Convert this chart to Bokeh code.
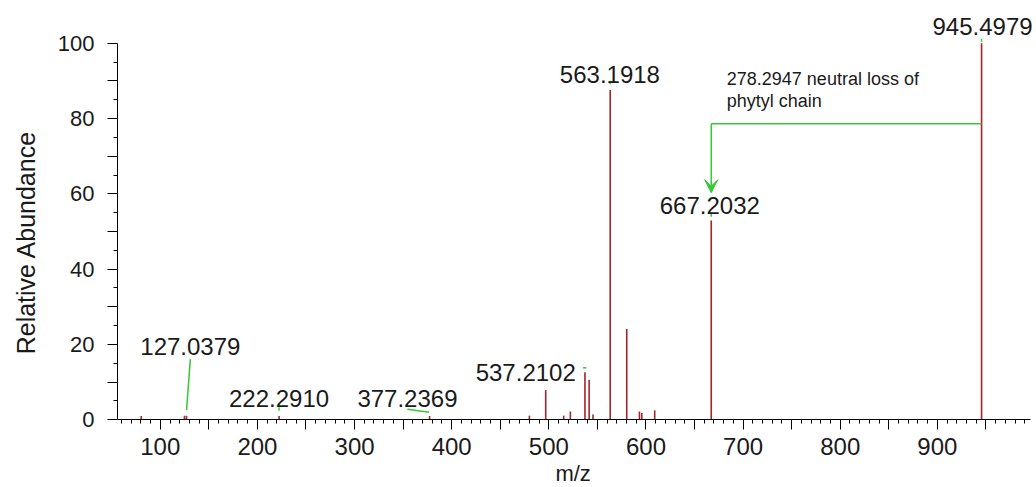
from bokeh.plotting import figure
from bokeh.models import Range1d, FixedTicker, Arrow, VeeHead
from bokeh.core.properties import value
from bokeh.embed import file_html
from bokeh.resources import INLINE
import math

# ---- data ----
mz = [80.4, 124.9, 127.0379, 222.2910, 377.2369, 480.0, 496.8, 515.3, 522.2,
      537.2102, 541.5, 545.5, 563.1918, 580.2, 593.3, 595.7, 609.0, 667.2032, 945.4979]
abundance = [1.0, 1.1, 1.1, 1.0, 1.0, 1.1, 7.9, 1.1, 2.2,
             12.6, 10.6, 1.4, 87.6, 24.1, 2.2, 1.8, 2.5, 52.9, 100.0]

label_mz = [127.0379, 222.2910, 377.2369, 537.2102, 563.1918, 667.2032, 945.4979]
label_text = ["127.0379", "222.2910", "377.2369", "537.2102", "563.1918", "667.2032", "945.4979"]
label_abund = [1.1, 1.0, 1.0, 12.6, 87.6, 52.9, 100.0]

loss_text = ["278.2947 neutral loss of", "phytyl chain"]
loss_from = 945.4979
loss_to = 667.2032

x_ticks = [100, 200, 300, 400, 500, 600, 700, 800, 900]
y_ticks = [0, 20, 40, 60, 80, 100]
x_title = "m/z"
y_title = "Relative Abundance"

# ---- layout / style (not data) ----
X_MIN, X_MAX = 56, 996
label_dx = [3.9, 0.0, -22.8, -61.0, -0.3, -1.5, 1.0]
label_dy = [18.3, 4.6, 4.6, 0.0, 4.2, 3.9, 4.4]
lead_dx0 = [3.9, 0.0, -22.8, -2.0, 0.0, 0.0, 0.0]
lead_dy0 = [15.0, 2.3, 1.8, 1.2, 2.4, 1.9, 1.2]
lead_dx1 = [0.0, 0.0, -0.5, 1.5, 0.0, 0.0, 0.0]
lead_dy1 = [1.5, 1.4, 1.0, 1.2, 1.5, 1.0, 0.4]
arrow_level = 78.6
arrow_tip = 60.3
y_title_pos = (-38.7, 47.1)
x_title_pos = (525.0, -14.3)

PEAK = "#a3242a"
GREEN = "#35c935"
FONT = "Liberation Sans"
TXT = "#1a1a1a"

p = figure(width=1034, height=487, x_range=Range1d(-64.5, 1000), y_range=Range1d(-17.98, 111.34),
           output_backend="svg", toolbar_location=None, min_border=0)
p.grid.visible = False
p.outline_line_color = None
p.background_fill_color = "white"
p.border_fill_color = "white"

# peaks
p.segment(x0=mz, y0=[0] * len(mz), x1=mz, y1=abundance, line_color=PEAK, line_width=1.6)

# leader lines
p.segment(x0=[m + d for m, d in zip(label_mz, lead_dx0)],
          y0=[a + d for a, d in zip(label_abund, lead_dy0)],
          x1=[m + d for m, d in zip(label_mz, lead_dx1)],
          y1=[a + d for a, d in zip(label_abund, lead_dy1)],
          line_color=GREEN, line_width=1.5)

# peak labels
p.text(x=[m + d for m, d in zip(label_mz, label_dx)],
       y=[a + d for a, d in zip(label_abund, label_dy)],
       text=label_text, text_font=value(FONT), text_font_size="24px",
       text_align="center", text_baseline="middle", text_color=TXT)

# neutral loss annotation
p.segment(x0=[loss_from], y0=[arrow_level], x1=[loss_to], y1=[arrow_level],
          line_color=GREEN, line_width=1.5)
p.add_layout(Arrow(end=VeeHead(size=13, fill_color=GREEN, line_color=GREEN),
                   x_start=loss_to, y_start=arrow_level, x_end=loss_to, y_end=arrow_tip,
                   line_color=GREEN, line_width=1.5))
p.text(x=[loss_to + 16.0, loss_to + 16.0], y=[arrow_level + 12.0, arrow_level + 6.0],
       text=loss_text, text_font=value(FONT), text_font_size="18px",
       text_align="left", text_baseline="middle", text_color=TXT)

# axis titles
p.text(x=[y_title_pos[0]], y=[y_title_pos[1]], text=[y_title], angle=math.pi / 2,
       text_font=value(FONT), text_font_size="25px",
       text_align="center", text_baseline="middle", text_color=TXT)
p.text(x=[x_title_pos[0]], y=[x_title_pos[1]], text=[x_title],
       text_font=value(FONT), text_font_size="22px",
       text_align="center", text_baseline="middle", text_color=TXT)

# axes
xa = p.xaxis[0]
xa.fixed_location = 0
xa.bounds = (X_MIN, X_MAX)
xa.ticker = FixedTicker(ticks=[t for t in range(100, 1000, 50)],
                        minor_ticks=[t for t in range(60, 1000, 10)])
xa.major_label_overrides = {t: ("" if t not in x_ticks else str(t)) for t in range(100, 1000, 50)}
xa.major_tick_out = 10
xa.major_tick_in = 0
xa.minor_tick_out = 4
xa.minor_tick_in = 0
xa.major_label_standoff = 8
xa.major_label_text_font = FONT
xa.major_label_text_font_size = "24px"
xa.axis_line_color = "black"
xa.major_tick_line_color = "black"
xa.minor_tick_line_color = "black"
xa.major_label_text_color = TXT

ya = p.yaxis[0]
ya.fixed_location = X_MIN
ya.bounds = (0, 100)
ya.ticker = FixedTicker(ticks=list(range(0, 101, 10)), minor_ticks=list(range(5, 100, 10)))
ya.major_label_overrides = {t: ("" if t not in y_ticks else str(t)) for t in range(0, 101, 10)}
ya.major_tick_out = 10
ya.major_tick_in = 0
ya.minor_tick_out = 4
ya.minor_tick_in = 0
ya.major_label_standoff = 13
ya.major_label_text_font = FONT
ya.major_label_text_font_size = "22px"
ya.axis_line_color = "black"
ya.major_tick_line_color = "black"
ya.minor_tick_line_color = "black"
ya.major_label_text_color = TXT

open("out.html", "w").write(file_html(p, INLINE))
